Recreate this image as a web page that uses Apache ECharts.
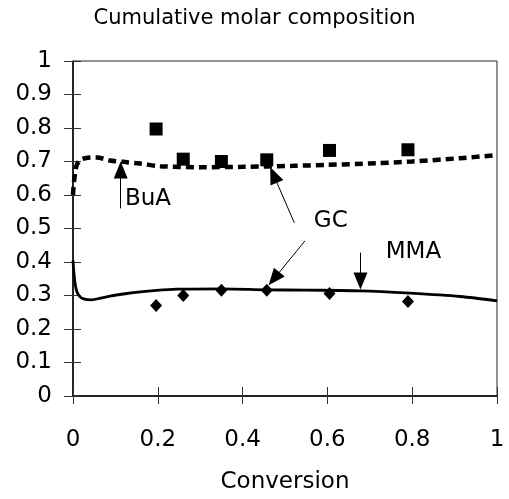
<!DOCTYPE html>
<html>
<head>
<meta charset="utf-8">
<script src="https://cdn.jsdelivr.net/npm/echarts@6/dist/echarts.min.js"></script>
<style>
  html, body { margin: 0; padding: 0; background: #fff; }
  #chart { width: 509px; height: 499px; }
</style>
</head>
<body>
<div id="chart"></div>
<script>
// model curves (cumulative composition vs conversion)
const mmaModelX = [0, 0.002, 0.005, 0.009, 0.015, 0.025, 0.044, 0.065, 0.087, 0.127, 0.197, 0.245, 0.35, 0.457, 0.55, 0.677, 0.795, 0.913, 1];
const mmaModelY = [0.405, 0.37, 0.335, 0.312, 0.298, 0.29, 0.287, 0.292, 0.298, 0.306, 0.315, 0.319, 0.32, 0.317, 0.316, 0.314, 0.307, 0.297, 0.284];
const buaModelX = [0, 0.002, 0.005, 0.009, 0.018, 0.035, 0.056, 0.087, 0.118, 0.158, 0.205, 0.3, 0.4, 0.519, 0.6, 0.716, 0.8, 0.913, 1];
const buaModelY = [0.6, 0.635, 0.665, 0.69, 0.705, 0.711, 0.712, 0.703, 0.699, 0.694, 0.686, 0.683, 0.684, 0.687, 0.69, 0.695, 0.7, 0.71, 0.719];

// GC measurements
const gcX = [0.196, 0.26, 0.35, 0.457, 0.605, 0.79];
const gcBuA = [0.797, 0.707, 0.70, 0.705, 0.733, 0.735];
const gcMMA = [0.27, 0.30, 0.316, 0.316, 0.306, 0.282];

// annotations
const noteText = ['BuA', 'GC', 'MMA'];
const noteX = [0.177, 0.608, 0.803];
const noteY = [0.589, 0.523, 0.431];
const arrowFrom = [[0.1125, 0.56], [0.522, 0.517], [0.547, 0.463], [0.678, 0.428]];
const arrowTo = [[0.1125, 0.675], [0.473, 0.66], [0.474, 0.35], [0.678, 0.343]];

const FONT = 'DejaVu Sans';

function zip(xs, ys) {
    return xs.map((x, i) => [x, ys[i]]);
}

let myChart = echarts.init(document.getElementById('chart'));

let option = {
    animation: false,
    backgroundColor: '#fff',
    title: {
        text: 'Cumulative molar composition',
        left: 'center',
        top: 8,
        padding: 0,
        textStyle: { fontFamily: FONT, fontSize: 21, fontWeight: 'normal', color: '#000' }
    },
    grid: {
        left: 73, right: 12, top: 61, bottom: 97,
        show: true,
        borderColor: '#222',
        borderWidth: 1
    },
    xAxis: [
        {
            type: 'value', min: 0, max: 1, interval: 0.2, position: 'bottom',
            name: 'Conversion', nameLocation: 'middle', nameGap: 75,
            nameTextStyle: { fontFamily: FONT, fontSize: 23, color: '#000' },
            axisLine: { show: true, onZero: false, lineStyle: { color: '#000', width: 1.5 } },
            axisTick: { show: true, inside: false, length: 8, lineStyle: { color: '#333', width: 1 } },
            axisLabel: { margin: 33, fontFamily: FONT, fontSize: 23, color: '#000' },
            splitLine: { show: false }
        },
        {
            type: 'value', min: 0, max: 1, interval: 0.2, position: 'bottom',
            axisLine: { show: false, onZero: false },
            axisTick: { show: true, inside: true, length: 9, lineStyle: { color: '#333', width: 1 } },
            axisLabel: { show: false },
            splitLine: { show: false }
        }
    ],
    yAxis: [
        {
            type: 'value', min: 0, max: 1, interval: 0.1, position: 'left',
            axisLine: { show: true, onZero: false, lineStyle: { color: '#000', width: 1.5 } },
            axisTick: { show: true, inside: false, length: 9, lineStyle: { color: '#333', width: 1 } },
            axisLabel: { margin: 21, fontFamily: FONT, fontSize: 23, color: '#000' },
            splitLine: { show: false }
        },
        {
            type: 'value', min: 0, max: 1, interval: 0.1, position: 'left',
            axisLine: { show: false, onZero: false },
            axisTick: { show: true, inside: true, length: 8, lineStyle: { color: '#333', width: 1 } },
            axisLabel: { show: false },
            splitLine: { show: false }
        }
    ],
    series: [
        {
            name: 'BuA model',
            type: 'line',
            data: zip(buaModelX, buaModelY),
            smooth: 0.3,
            showSymbol: false,
            lineStyle: { color: '#000', width: 4.5, type: [8, 5], cap: 'butt' },
            z: 2
        },
        {
            name: 'MMA model',
            type: 'line',
            data: zip(mmaModelX, mmaModelY),
            smooth: 0.3,
            showSymbol: false,
            lineStyle: { color: '#000', width: 2.8 },
            z: 2
        },
        {
            name: 'BuA GC',
            type: 'scatter',
            data: zip(gcX, gcBuA),
            symbol: 'rect',
            symbolSize: 13,
            itemStyle: { color: '#000', opacity: 1 },
            z: 3
        },
        {
            name: 'MMA GC',
            type: 'scatter',
            data: zip(gcX, gcMMA),
            symbol: 'diamond',
            symbolSize: [12, 13],
            itemStyle: { color: '#000', opacity: 1 },
            z: 3
        },
        {
            name: 'notes',
            type: 'scatter',
            silent: true,
            data: zip(noteX, noteY).map((p, i) => ({ value: p, name: noteText[i] })),
            symbolSize: 1,
            itemStyle: { color: 'rgba(0,0,0,0)', opacity: 1 },
            label: {
                show: true,
                position: 'inside',
                formatter: '{b}',
                fontFamily: FONT,
                fontSize: 23,
                color: '#000'
            },
            markLine: {
                silent: true,
                symbol: ['none', 'triangle'],
                symbolSize: [14, 17],
                label: { show: false },
                itemStyle: { color: '#000' },
                lineStyle: { color: '#000', width: 1, type: 'solid', opacity: 1 },
                emphasis: { disabled: true },
                data: arrowFrom.map((p, i) => [{ coord: p }, { coord: arrowTo[i] }])
            },
            z: 4
        }
    ]
};

myChart.setOption(option, true);
window.addEventListener('resize', function () {
    myChart.resize();
});
</script>
</body>
</html>
